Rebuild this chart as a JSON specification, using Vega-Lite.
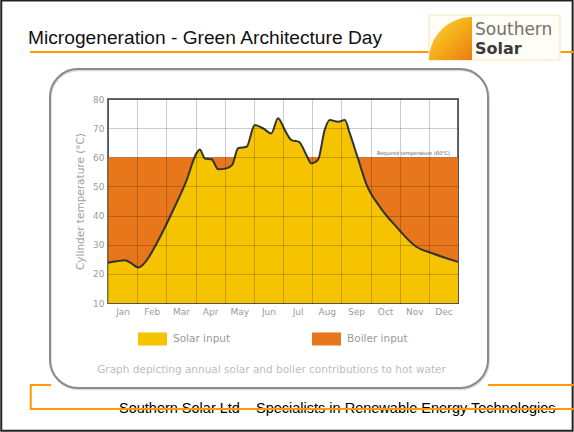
{
  "$schema": "https://vega.github.io/schema/vega-lite/v6.json",
  "width": 350,
  "height": 204,
  "autosize": {"type": "none"},
  "padding": {"left": 108, "top": 99, "right": 116, "bottom": 129},
  "background": "white",
  "config": {
    "view": {"stroke": "#6b6b6b", "strokeWidth": 2},
    "font": "DejaVu Sans",
    "axis": {
      "domain": false,
      "ticks": false,
      "labelFont": "DejaVu Sans",
      "labelFontSize": 9,
      "labelColor": "#9a9a9a",
      "labelOverlap": false,
      "labelFlush": false,
      "gridColor": "#000000",
      "gridOpacity": 0.2,
      "gridWidth": 1
    }
  },
  "datasets": {
    "solar": [
      {"month": 0, "temp": 23.8},
      {"month": 0.3, "temp": 24.3},
      {"month": 0.58, "temp": 24.7},
      {"month": 0.8, "temp": 23.6},
      {"month": 1.04, "temp": 22.2},
      {"month": 1.33, "temp": 24.7},
      {"month": 1.67, "temp": 30.5},
      {"month": 2.24, "temp": 42},
      {"month": 2.69, "temp": 52},
      {"month": 3.04, "temp": 61.5},
      {"month": 3.15, "temp": 62.7},
      {"month": 3.32, "temp": 59.6},
      {"month": 3.55, "temp": 59.3},
      {"month": 3.78, "temp": 55.9},
      {"month": 4.06, "temp": 56.2},
      {"month": 4.26, "temp": 57.4},
      {"month": 4.46, "temp": 63.1},
      {"month": 4.75, "temp": 63.6},
      {"month": 5.03, "temp": 71.1},
      {"month": 5.32, "temp": 69.9},
      {"month": 5.6, "temp": 68.2},
      {"month": 5.83, "temp": 73.4},
      {"month": 6.06, "temp": 69.4},
      {"month": 6.29, "temp": 65.9},
      {"month": 6.55, "temp": 65.3},
      {"month": 6.8, "temp": 60.8},
      {"month": 6.97, "temp": 57.9},
      {"month": 7.2, "temp": 59.1},
      {"month": 7.43, "temp": 69.4},
      {"month": 7.6, "temp": 72.8},
      {"month": 7.89, "temp": 72.2},
      {"month": 8.12, "temp": 72.8},
      {"month": 8.29, "temp": 68.2},
      {"month": 8.57, "temp": 59.6},
      {"month": 8.85, "temp": 51.0},
      {"month": 9.32, "temp": 43.0},
      {"month": 9.89, "temp": 36.1},
      {"month": 10.57, "temp": 29.3},
      {"month": 11.14, "temp": 27.0},
      {"month": 12, "temp": 24.1}
    ],
    "required": [
      {"month": 0, "temp": 60},
      {"month": 12, "temp": 60}
    ]
  },
  "layer": [
    {
      "data": {"name": "required"},
      "mark": {"type": "area", "opacity": 1},
      "encoding": {
        "x": {
          "field": "month", "type": "quantitative",
          "scale": {"domain": [0, 12], "nice": false, "zero": false},
          "axis": {
            "title": null,
            "values": [0, 1, 2, 3, 4, 5, 6, 7, 8, 9, 10, 11, 12],
            "tickCount": 13,
            "labelExpr": "['Jan','Feb','Mar','Apr','May','Jun','Jul','Aug','Sep','Oct','Nov','Dec',''][datum.value]",
            "labelOffset": 14.6,
            "labelPadding": 4,
            "labelOverlap": false,
            "labelFlush": false,
            "grid": true,
            "zindex": 1
          }
        },
        "y": {
          "field": "temp", "type": "quantitative",
          "scale": {"domain": [10, 80], "nice": false, "zero": false},
          "axis": {
            "title": "Cylinder temperature (°C)",
            "titleFont": "DejaVu Sans",
            "titleFontSize": 10.5,
            "titleFontWeight": "normal",
            "titleColor": "#a0a0a0",
            "titlePadding": 7,
            "values": [10, 20, 30, 40, 50, 60, 70, 80],
            "tickCount": 8,
            "labelPadding": 4,
            "labelOverlap": false,
            "labelFlush": false,
            "grid": true,
            "zindex": 1
          }
        },
        "y2": {"datum": 10},
        "color": {
          "datum": "Boiler input",
          "scale": {"domain": ["Solar input", "Boiler input"], "range": ["#F6C300", "#E8761A"]},
          "legend": {
            "title": null,
            "orient": "none",
            "legendX": 30,
            "legendY": 225,
            "direction": "horizontal",
            "symbolType": "M-1,-0.45H1V0.45H-1Z",
            "symbolSize": 841,
            "symbolStrokeWidth": 0,
            "symbolOpacity": 1,
            "labelFont": "DejaVu Sans",
            "labelFontSize": 10.5,
            "labelColor": "#9a9a9a",
            "labelOffset": 6,
            "columnPadding": 81
          }
        }
      }
    },
    {
      "data": {"name": "solar"},
      "mark": {"type": "area", "interpolate": "monotone", "opacity": 1},
      "encoding": {
        "x": {"field": "month", "type": "quantitative"},
        "y": {"field": "temp", "type": "quantitative"},
        "y2": {"datum": 10},
        "color": {"datum": "Solar input"}
      }
    },
    {
      "data": {"name": "solar"},
      "mark": {"type": "line", "interpolate": "monotone", "color": "#333333", "strokeWidth": 2},
      "encoding": {
        "x": {"field": "month", "type": "quantitative"},
        "y": {"field": "temp", "type": "quantitative"}
      }
    },
    {
      "data": {"values": [{}]},
      "mark": {"type": "text", "text": "Required temperature (60°C)", "fontSize": 5, "color": "#555555", "align": "center", "baseline": "middle"},
      "encoding": {
        "x": {"datum": 10.474, "type": "quantitative"},
        "y": {"datum": 61.47, "type": "quantitative"}
      }
    },
    {
      "data": {"values": [{}]},
      "mark": {"type": "rect", "fill": null, "fillOpacity": 0, "stroke": "#222222", "strokeWidth": 2},
      "encoding": {
        "x": {"datum": -3.66, "type": "quantitative"},
        "x2": {"datum": 15.93},
        "y": {"datum": 113.8, "type": "quantitative"},
        "y2": {"datum": -33.8}
      }
    },
    {
      "data": {"values": [{}]},
      "mark": {"type": "rect", "fill": null, "fillOpacity": 0, "stroke": "#dddddd", "strokeWidth": 2, "cornerRadius": 28},
      "encoding": {
        "x": {"datum": -1.96, "type": "quantitative"},
        "x2": {"datum": 13.06},
        "y": {"datum": 89.9, "type": "quantitative"},
        "y2": {"datum": -19.6}
      }
    },
    {
      "data": {"values": [{}]},
      "mark": {"type": "rect", "fill": null, "fillOpacity": 0, "stroke": "#8a8a8a", "strokeWidth": 2, "cornerRadius": 28},
      "encoding": {
        "x": {"datum": -1.989, "type": "quantitative"},
        "x2": {"datum": 13.029},
        "y": {"datum": 90.29, "type": "quantitative"},
        "y2": {"datum": -19.17}
      }
    },
    {
      "data": {"values": [{}]},
      "mark": {"type": "text", "text": "Microgeneration - Green Architecture Day", "font": "Liberation Sans", "fontSize": 19.2, "color": "#111111", "align": "left", "baseline": "alphabetic"},
      "encoding": {
        "x": {"datum": -2.743, "type": "quantitative"},
        "y": {"datum": 99.04, "type": "quantitative"}
      }
    },
    {
      "data": {"values": [{}]},
      "mark": {"type": "rule", "color": "#FF9900", "strokeWidth": 2},
      "encoding": {
        "x": {"datum": -2.674, "type": "quantitative"},
        "x2": {"datum": 15.966},
        "y": {"datum": 96.13, "type": "quantitative"}
      }
    },
    {
      "data": {"values": [{}]},
      "mark": {"type": "rect", "fill": "#fffdf6", "stroke": "#f6e6b4", "strokeWidth": 1},
      "encoding": {
        "x": {"datum": 11.006, "type": "quantitative"},
        "x2": {"datum": 15.497},
        "y": {"datum": 108.82, "type": "quantitative"},
        "y2": {"datum": 93.38}
      }
    },
    {
      "data": {"values": [{}]},
      "mark": {
        "type": "point",
        "shape": "M1,1L-1,1A2,2 0 0 1 1,-1Z",
        "size": 1849,
        "filled": true,
        "opacity": 1,
        "strokeWidth": 0,
        "fill": {
          "gradient": "linear", "x1": 0, "y1": 0, "x2": 1, "y2": 1,
          "stops": [
            {"offset": 0, "color": "#fbd44a"},
            {"offset": 0.5, "color": "#f5ae18"},
            {"offset": 1, "color": "#ec7c10"}
          ]
        }
      },
      "encoding": {
        "x": {"datum": 11.743, "type": "quantitative"},
        "y": {"datum": 100.76, "type": "quantitative"}
      }
    },
    {
      "data": {"values": [{}]},
      "mark": {"type": "text", "text": "Southern", "font": "DejaVu Sans", "fontSize": 17, "color": "#707070", "align": "left", "baseline": "alphabetic"},
      "encoding": {
        "x": {"datum": 12.583, "type": "quantitative"},
        "y": {"datum": 101.96, "type": "quantitative"}
      }
    },
    {
      "data": {"values": [{}]},
      "mark": {"type": "text", "text": "Solar", "font": "DejaVu Sans", "fontSize": 16, "fontWeight": "bold", "color": "#3a3a3a", "align": "left", "baseline": "alphabetic"},
      "encoding": {
        "x": {"datum": 12.583, "type": "quantitative"},
        "y": {"datum": 95.44, "type": "quantitative"}
      }
    },
    {
      "data": {"values": [{}]},
      "mark": {"type": "text", "text": "Graph depicting annual solar and boiler contributions to hot water", "font": "DejaVu Sans", "fontSize": 10.5, "color": "#bdbdbd", "align": "center", "baseline": "middle"},
      "encoding": {
        "x": {"datum": 5.606, "type": "quantitative"},
        "y": {"datum": -12.99, "type": "quantitative"}
      }
    },
    {
      "data": {"values": [{}]},
      "mark": {"type": "text", "text": "Southern Solar Ltd – Specialists in Renewable Energy Technologies", "font": "Liberation Sans", "fontSize": 14.5, "color": "#000000", "align": "left", "baseline": "alphabetic"},
      "encoding": {
        "x": {"datum": 0.377, "type": "quantitative"},
        "y": {"datum": -27.75, "type": "quantitative"}
      }
    },
    {
      "data": {"values": [{}]},
      "mark": {"type": "rule", "color": "#FF9900", "strokeWidth": 2},
      "encoding": {
        "x": {"datum": -2.65, "type": "quantitative"},
        "y": {"datum": -18.14, "type": "quantitative"},
        "y2": {"datum": -26.37}
      }
    },
    {
      "data": {"values": [{}]},
      "mark": {"type": "rule", "color": "#FF9900", "strokeWidth": 2},
      "encoding": {
        "x": {"datum": -2.674, "type": "quantitative"},
        "x2": {"datum": -1.954},
        "y": {"datum": -18.14, "type": "quantitative"}
      }
    },
    {
      "data": {"values": [{}]},
      "mark": {"type": "rule", "color": "#FF9900", "strokeWidth": 2},
      "encoding": {
        "x": {"datum": 13.029, "type": "quantitative"},
        "x2": {"datum": 15.966},
        "y": {"datum": -18.14, "type": "quantitative"}
      }
    },
    {
      "data": {"values": [{}]},
      "mark": {"type": "rule", "color": "#FF9900", "strokeWidth": 2},
      "encoding": {
        "x": {"datum": -2.674, "type": "quantitative"},
        "x2": {"datum": 15.966},
        "y": {"datum": -26.37, "type": "quantitative"}
      }
    }
  ]
}
